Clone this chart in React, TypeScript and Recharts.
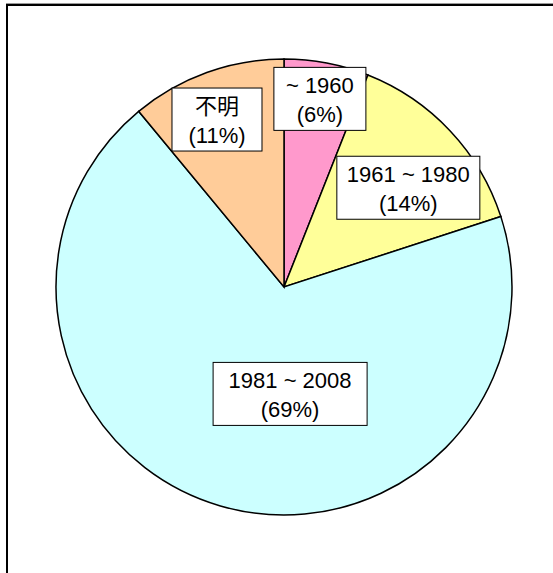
import { PieChart, Pie, Cell } from "recharts"

const periods = ["~ 1960", "1961 ~ 1980", "1981 ~ 2008", "不明"]
const shares = [6, 14, 69, 11]
const sliceColors = ["#FF99CC", "#FFFF99", "#CCFFFF", "#FFCC99"]

const data = periods.map((name, i) => ({ name, value: shares[i] }))

// label box placement: radius fraction along the slice middle, nudges, box width
const labelLayout = [
  { r: 0.84, dx: 0, dy: 0, w: 92 },
  { r: 0.7, dx: 8, dy: 10, w: 143 },
  { r: 0.47, dx: 36, dy: 4, w: 154 },
  { r: 0.79, dx: -6, dy: 2, w: 90 },
]

const RAD = Math.PI / 180
const FONT = "'Liberation Sans', Arial, 'Noto Sans CJK JP', sans-serif"

function renderLabel(props: any) {
  const { cx, cy, midAngle, outerRadius, index, name, percent } = props
  const lay = labelLayout[index]
  const r = outerRadius * lay.r
  const x = cx + r * Math.cos(-midAngle * RAD) + lay.dx
  const y = cy + r * Math.sin(-midAngle * RAD) + lay.dy
  const h = 63
  return (
    <g>
      <rect x={x - lay.w / 2} y={y - h / 2} width={lay.w} height={h} fill="#fff" stroke="#000" strokeWidth={1} />
      <text x={x} y={y - 13} textAnchor="middle" dominantBaseline="central" fontSize={22} fontFamily={FONT} fill="#000">
        {name}
      </text>
      <text x={x} y={y + 16} textAnchor="middle" dominantBaseline="central" fontSize={22} fontFamily={FONT} fill="#000">
        ({Math.round(percent * 100)}%)
      </text>
    </g>
  )
}

export default function App() {
  return (
    <div style={{ position: "absolute", left: 0, top: 0, width: 553, height: 573, background: "#fff", overflow: "hidden" }}>
      <div
        style={{
          position: "absolute",
          left: 6,
          top: 4,
          width: 600,
          height: 620,
          borderLeft: "2px solid #000",
          borderTop: "2px solid #000",
          boxShadow: "0 -1px 0 #999",
        }}
      />
      <div style={{ position: "absolute", left: 0, top: 0 }}>
        <PieChart width={553} height={573} margin={{ top: 0, right: 0, bottom: 0, left: 0 }}>
          <Pie
            data={data}
            dataKey="value"
            nameKey="name"
            cx={284}
            cy={287}
            outerRadius={228}
            startAngle={90}
            endAngle={-270}
            stroke="#000"
            strokeWidth={1.5}
            label={renderLabel}
            labelLine={false}
            isAnimationActive={false}
          >
            {data.map((d, i) => (
              <Cell key={d.name} fill={sliceColors[i]} />
            ))}
          </Pie>
        </PieChart>
      </div>
    </div>
  )
}
